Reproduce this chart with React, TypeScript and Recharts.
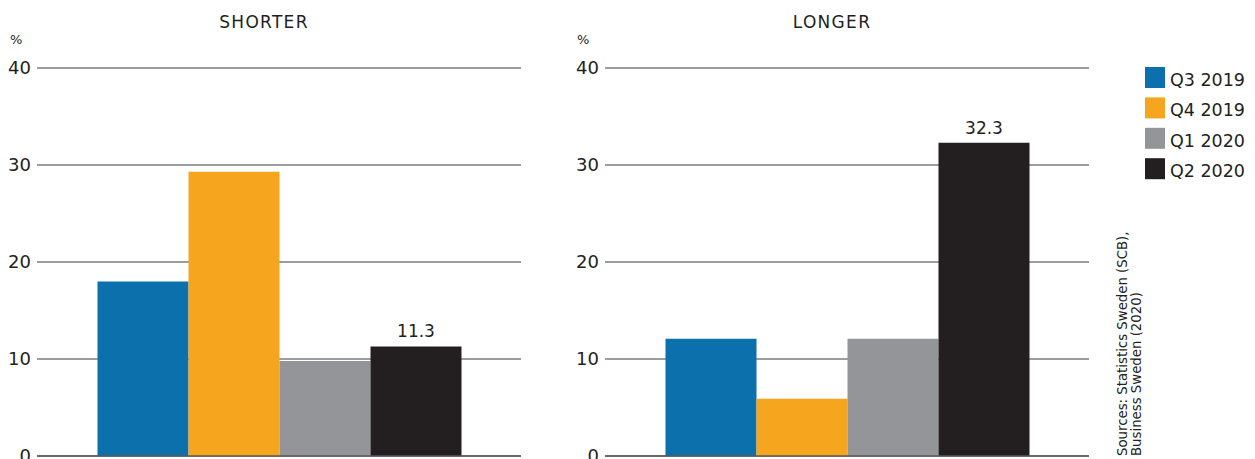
import { BarChart, Bar, XAxis, YAxis, CartesianGrid, LabelList, ReferenceLine } from "recharts";

const quarters = ["Q3 2019", "Q4 2019", "Q1 2020", "Q2 2020"];
const quarterKeys = ["q3_2019", "q4_2019", "q1_2020", "q2_2020"];
const quarterColors = ["#0b70ab", "#f6a51e", "#939598", "#231f20"];

const shorterValues = [18.0, 29.3, 9.8, 11.3];
const longerValues = [12.1, 5.9, 12.1, 32.3];

const yTicks = [0, 10, 20, 30, 40];

const FONT = "'DejaVu Sans', sans-serif";
const INK = "#231f20";

function toRow(name: string, values: number[]) {
  const row: Record<string, string | number> = { name };
  quarterKeys.forEach((k, i) => (row[k] = values[i]));
  return [row];
}

function Panel({ values, left }: { values: number[]; left: number }) {
  return (
    <div style={{ position: "absolute", left, top: 0 }}>
      <BarChart
        width={530}
        height={459}
        data={toRow("panel", values)}
        margin={{ top: 68, right: 9, bottom: 3, left: 0 }}
        barCategoryGap="12.5%"
        barGap={0}
      >
        <CartesianGrid vertical={false} stroke="#3c3c3c" />
        <XAxis dataKey="name" hide />
        <YAxis
          width={37}
          domain={[0, 40]}
          ticks={yTicks}
          interval={0}
          axisLine={false}
          tickLine={false}
          tickSize={0}
          tickMargin={6}
          tick={{ fontSize: 18, fill: INK, fontFamily: FONT }}
        />
        {quarterKeys.map((k, i) => (
          <Bar key={k} dataKey={k} fill={quarterColors[i]} isAnimationActive={false}>
            {i === quarterKeys.length - 1 && (
              <LabelList
                dataKey={k}
                position="top"
                offset={9}
                formatter={(v: number) => v.toFixed(1)}
                style={{ fontSize: 17, fill: INK, fontFamily: FONT }}
              />
            )}
          </Bar>
        ))}
        <ReferenceLine y={0} stroke="#58595b" strokeWidth={1.5} />
      </BarChart>
    </div>
  );
}

export default function App() {
  return (
    <div style={{ position: "absolute", left: 0, top: 0, width: 1255, height: 459, background: "#fff", fontFamily: FONT }}>
      <Panel values={shorterValues} left={0} />
      <Panel values={longerValues} left={568} />
      <svg
        width={1255}
        height={459}
        style={{ position: "absolute", left: 0, top: 0, pointerEvents: "none" }}
        fontFamily={FONT}
        fill={INK}
      >
        <text x={264} y={28} textAnchor="middle" fontSize={17} letterSpacing={1.3}>SHORTER</text>
        <text x={832} y={28} textAnchor="middle" fontSize={17} letterSpacing={1.3}>LONGER</text>
        <text x={10} y={44} fontSize={13}>%</text>
        <text x={577} y={44} fontSize={13}>%</text>
        {quarters.map((q, i) => (
          <g key={q}>
            <rect x={1145} y={67 + i * 30.4} width={20} height={21} fill={quarterColors[i]} />
            <text x={1170} y={86 + i * 30.4} fontSize={17.5}>{q}</text>
          </g>
        ))}
        <text transform="translate(1127,456) rotate(-90)" fontSize={13.3}>Sources: Statistics Sweden (SCB),</text>
        <text transform="translate(1141,456) rotate(-90)" fontSize={13.3}>Business Sweden (2020)</text>
      </svg>
    </div>
  );
}
